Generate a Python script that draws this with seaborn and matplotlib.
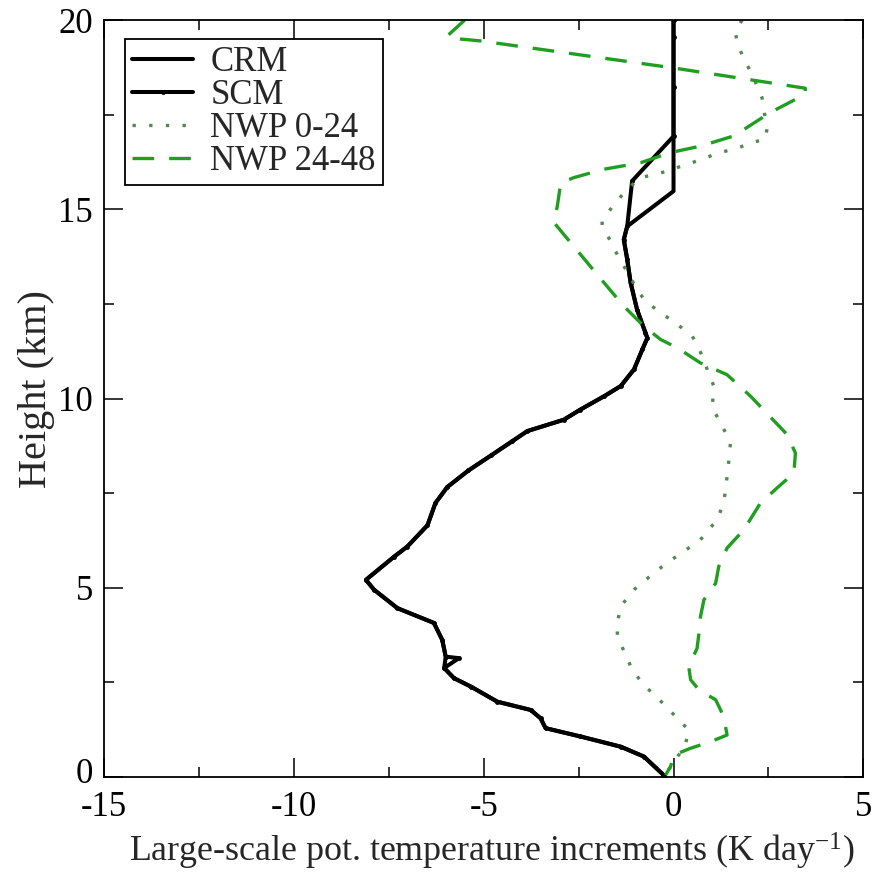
import matplotlib
matplotlib.use("Agg")
import matplotlib.pyplot as plt
from matplotlib.ticker import MultipleLocator
from matplotlib.transforms import ScaledTranslation
import seaborn as sns

# ---------------------------------------------------------------------------
# Data (height in km, increment in K/day)
# ---------------------------------------------------------------------------
crm_height = [20.0, 15.48, 14.55, 14.2, 13.68, 13.06, 12.35, 11.74, 11.6, 11.3,
              10.77, 10.33, 10.06, 9.71, 9.44, 9.14, 8.87, 8.5, 8.1, 7.66,
              7.24, 6.65, 6.09, 5.82, 5.21, 4.95, 4.46, 4.07, 3.62, 3.18,
              2.88, 2.61, 2.39, 1.99, 1.77, 1.55, 1.29, 1.07, 0.8, 0.54,
              0.05, 0.0]
crm_value = [0.0, 0.0, -1.22, -1.31, -1.22, -1.13, -0.96, -0.74, -0.69, -0.82,
             -1.04, -1.39, -1.83, -2.45, -2.89, -3.85, -4.25, -4.8, -5.4, -5.96,
             -6.27, -6.48, -7.01, -7.36, -8.1, -7.89, -7.27, -6.31, -6.09, -6.0,
             -6.04, -5.78, -5.34, -4.64, -3.76, -3.5, -3.37, -2.45, -1.39, -0.78,
             -0.26, -0.25]

scm_height = [20.0, 19.55, 18.23, 16.93, 15.75, 14.55, 14.2, 13.68, 13.06, 12.35,
              11.74, 11.6, 11.3, 10.77, 10.33, 10.06, 9.71, 9.44, 9.14, 8.87,
              8.5, 8.1, 7.66, 7.24, 6.65, 6.09, 5.82, 5.21, 4.95, 4.46,
              4.07, 3.62, 3.18, 3.14, 2.88, 2.61, 2.39, 1.99, 1.77, 1.55,
              1.29, 1.07, 0.8, 0.54, 0.05, 0.0]
scm_value = [0.0, 0.0, 0.0, 0.0, -1.09, -1.22, -1.31, -1.22, -1.13, -0.96,
             -0.74, -0.69, -0.82, -1.04, -1.39, -1.83, -2.45, -2.89, -3.85, -4.25,
             -4.8, -5.4, -5.96, -6.27, -6.48, -7.01, -7.36, -8.1, -7.89, -7.27,
             -6.31, -6.09, -6.0, -5.65, -6.04, -5.78, -5.34, -4.64, -3.76, -3.5,
             -3.37, -2.45, -1.39, -0.78, -0.26, -0.25]

nwp0_height = [20.0, 19.67, 19.4, 18.97, 18.57, 17.95, 17.12, 16.85, 16.76, 16.59,
               16.5, 16.34, 16.19, 15.93, 15.84, 15.53, 15.13, 14.69, 14.56, 14.16,
               13.72, 13.28, 12.88, 12.57, 12.27, 11.96, 11.65, 11.38, 10.33, 9.75,
               9.36, 8.83, 8.39, 7.94, 7.59, 7.24, 6.8, 6.27, 5.96, 5.72,
               5.43, 4.95, 4.51, 4.07, 3.71, 3.05, 2.83, 2.43, 1.93, 1.55,
               1.24, 0.8, 0.4, 0.0]
nwp0_value = [1.8, 1.63, 1.68, 1.85, 2.07, 2.33, 2.46, 2.42, 2.03, 1.63,
              1.19, 0.8, 0.36, -0.43, -0.87, -1.22, -1.57, -1.88, -1.88, -1.66,
              -1.44, -1.18, -0.96, -0.74, -0.34, 0.1, 0.49, 0.65, 1.06, 1.02,
              1.24, 1.5, 1.46, 1.41, 1.37, 1.32, 1.15, 0.71, 0.27, -0.08,
              -0.47, -1.04, -1.39, -1.48, -1.48, -1.18, -1.09, -0.78, -0.26, 0.1,
              0.4, 0.3, 0.0, -0.25]

nwp24_height = [20.0, 19.58, 19.5, 19.45, 18.74, 18.2, 18.04, 17.56, 16.94, 16.67,
                16.5, 16.23, 16.06, 15.84, 15.7, 15.09, 14.65, 14.12, 13.59, 13.06,
                12.44, 11.91, 11.56, 11.34, 10.94, 10.63, 10.06, 9.05, 8.56, 8.03,
                7.64, 7.24, 6.53, 6.05, 5.56, 5.12, 4.68, 4.24, 3.8, 3.4,
                2.92, 2.57, 2.3, 2.04, 1.6, 1.11, 0.93, 0.76, 0.58, 0.27,
                0.05]
nwp24_value = [-5.5, -5.96, -5.61, -5.08, -0.03, 3.47, 3.47, 2.55, 1.59, 0.71,
               -0.08, -0.87, -1.83, -2.62, -2.97, -3.06, -3.15, -2.71, -2.27, -1.83,
               -1.31, -0.78, -0.34, 0.1, 0.71, 1.41, 2.03, 2.99, 3.21, 3.17,
               2.73, 2.29, 1.85, 1.41, 1.19, 1.11, 0.8, 0.71, 0.67, 0.62,
               0.4, 0.45, 0.67, 1.11, 1.32, 1.41, 0.97, 0.45, 0.01, -0.08,
               -0.21]

x_ticks = [-15, -10, -5, 0, 5]
y_ticks = [0, 5, 10, 15, 20]

# ---------------------------------------------------------------------------
# Style
# ---------------------------------------------------------------------------
sns.set_theme(style="ticks")
plt.rcParams.update({
    "font.family": ["Liberation Serif", "DejaVu Serif"],
    "mathtext.fontset": "custom",
    "mathtext.rm": "Liberation Serif",
    "mathtext.it": "Liberation Serif:italic",
    "font.size": 25,
    "axes.linewidth": 1.3,
    "axes.edgecolor": "black",
    "xtick.color": "black",
    "ytick.color": "black",
})

fig = plt.figure(figsize=(8.81, 8.74), dpi=100)
ax = fig.add_axes([0.118, 0.111, 0.862, 0.866])

green_dash = "#1f9e1f"
green_dot = "#508a50"

sns.lineplot(x=crm_value, y=crm_height, sort=False, estimator=None, ax=ax,
             color="black", lw=2.9, label="CRM")
sns.lineplot(x=scm_value, y=scm_height, sort=False, estimator=None, ax=ax,
             color="black", lw=2.9, marker="o", markersize=3.5,
             markeredgewidth=0, label="SCM")
sns.lineplot(x=nwp0_value, y=nwp0_height, sort=False, estimator=None, ax=ax,
             color=green_dot, lw=2.4, linestyle=(0, (1, 4)), label="NWP 0-24")
sns.lineplot(x=nwp24_value, y=nwp24_height, sort=False, estimator=None, ax=ax,
             color=green_dash, lw=2.4, linestyle=(0, (6.5, 4.5)), label="NWP 24-48")

ax.set_xlim(-15, 5)
ax.set_ylim(0, 20)
ax.set_xticks(x_ticks)
ax.set_xticklabels([str(t) for t in x_ticks])
ax.set_yticks(y_ticks)
ax.xaxis.set_minor_locator(MultipleLocator(2.5))
ax.yaxis.set_minor_locator(MultipleLocator(2.5))
ax.tick_params(which="both", direction="in", top=True, right=True,
               labelsize=25, width=1.1)
ax.tick_params(axis="x", which="major", length=14, pad=10)
ax.tick_params(axis="y", which="major", length=14, pad=8)
ax.tick_params(which="minor", length=7)
for side in ax.spines.values():
    side.set_visible(True)
    side.set_linewidth(1.3)

# nudge the bottom "0" a little up so it clears the "-15" below it
zero_lbl = ax.get_yticklabels()[0]
zero_lbl.set_transform(zero_lbl.get_transform()
                       + ScaledTranslation(0, 5 / 72, fig.dpi_scale_trans))

ax.set_xlabel("Large-scale pot. temperature increments (K day$^{-1}$)",
              fontsize=25.8, labelpad=5)
ax.xaxis.label.set_x(0.511)
ax.set_ylabel("Height (km)", fontsize=29, labelpad=2)
ax.yaxis.label.set_y(0.512)

leg = ax.legend(loc="upper left", bbox_to_anchor=(0.028, 0.975),
                borderaxespad=0, fancybox=False, frameon=True, edgecolor="black",
                framealpha=1, fontsize=25, handlelength=1.75, handletextpad=0.5,
                borderpad=0.2, labelspacing=0.0)
leg.get_frame().set_linewidth(1.3)

fig.savefig("out.png", dpi=100)
